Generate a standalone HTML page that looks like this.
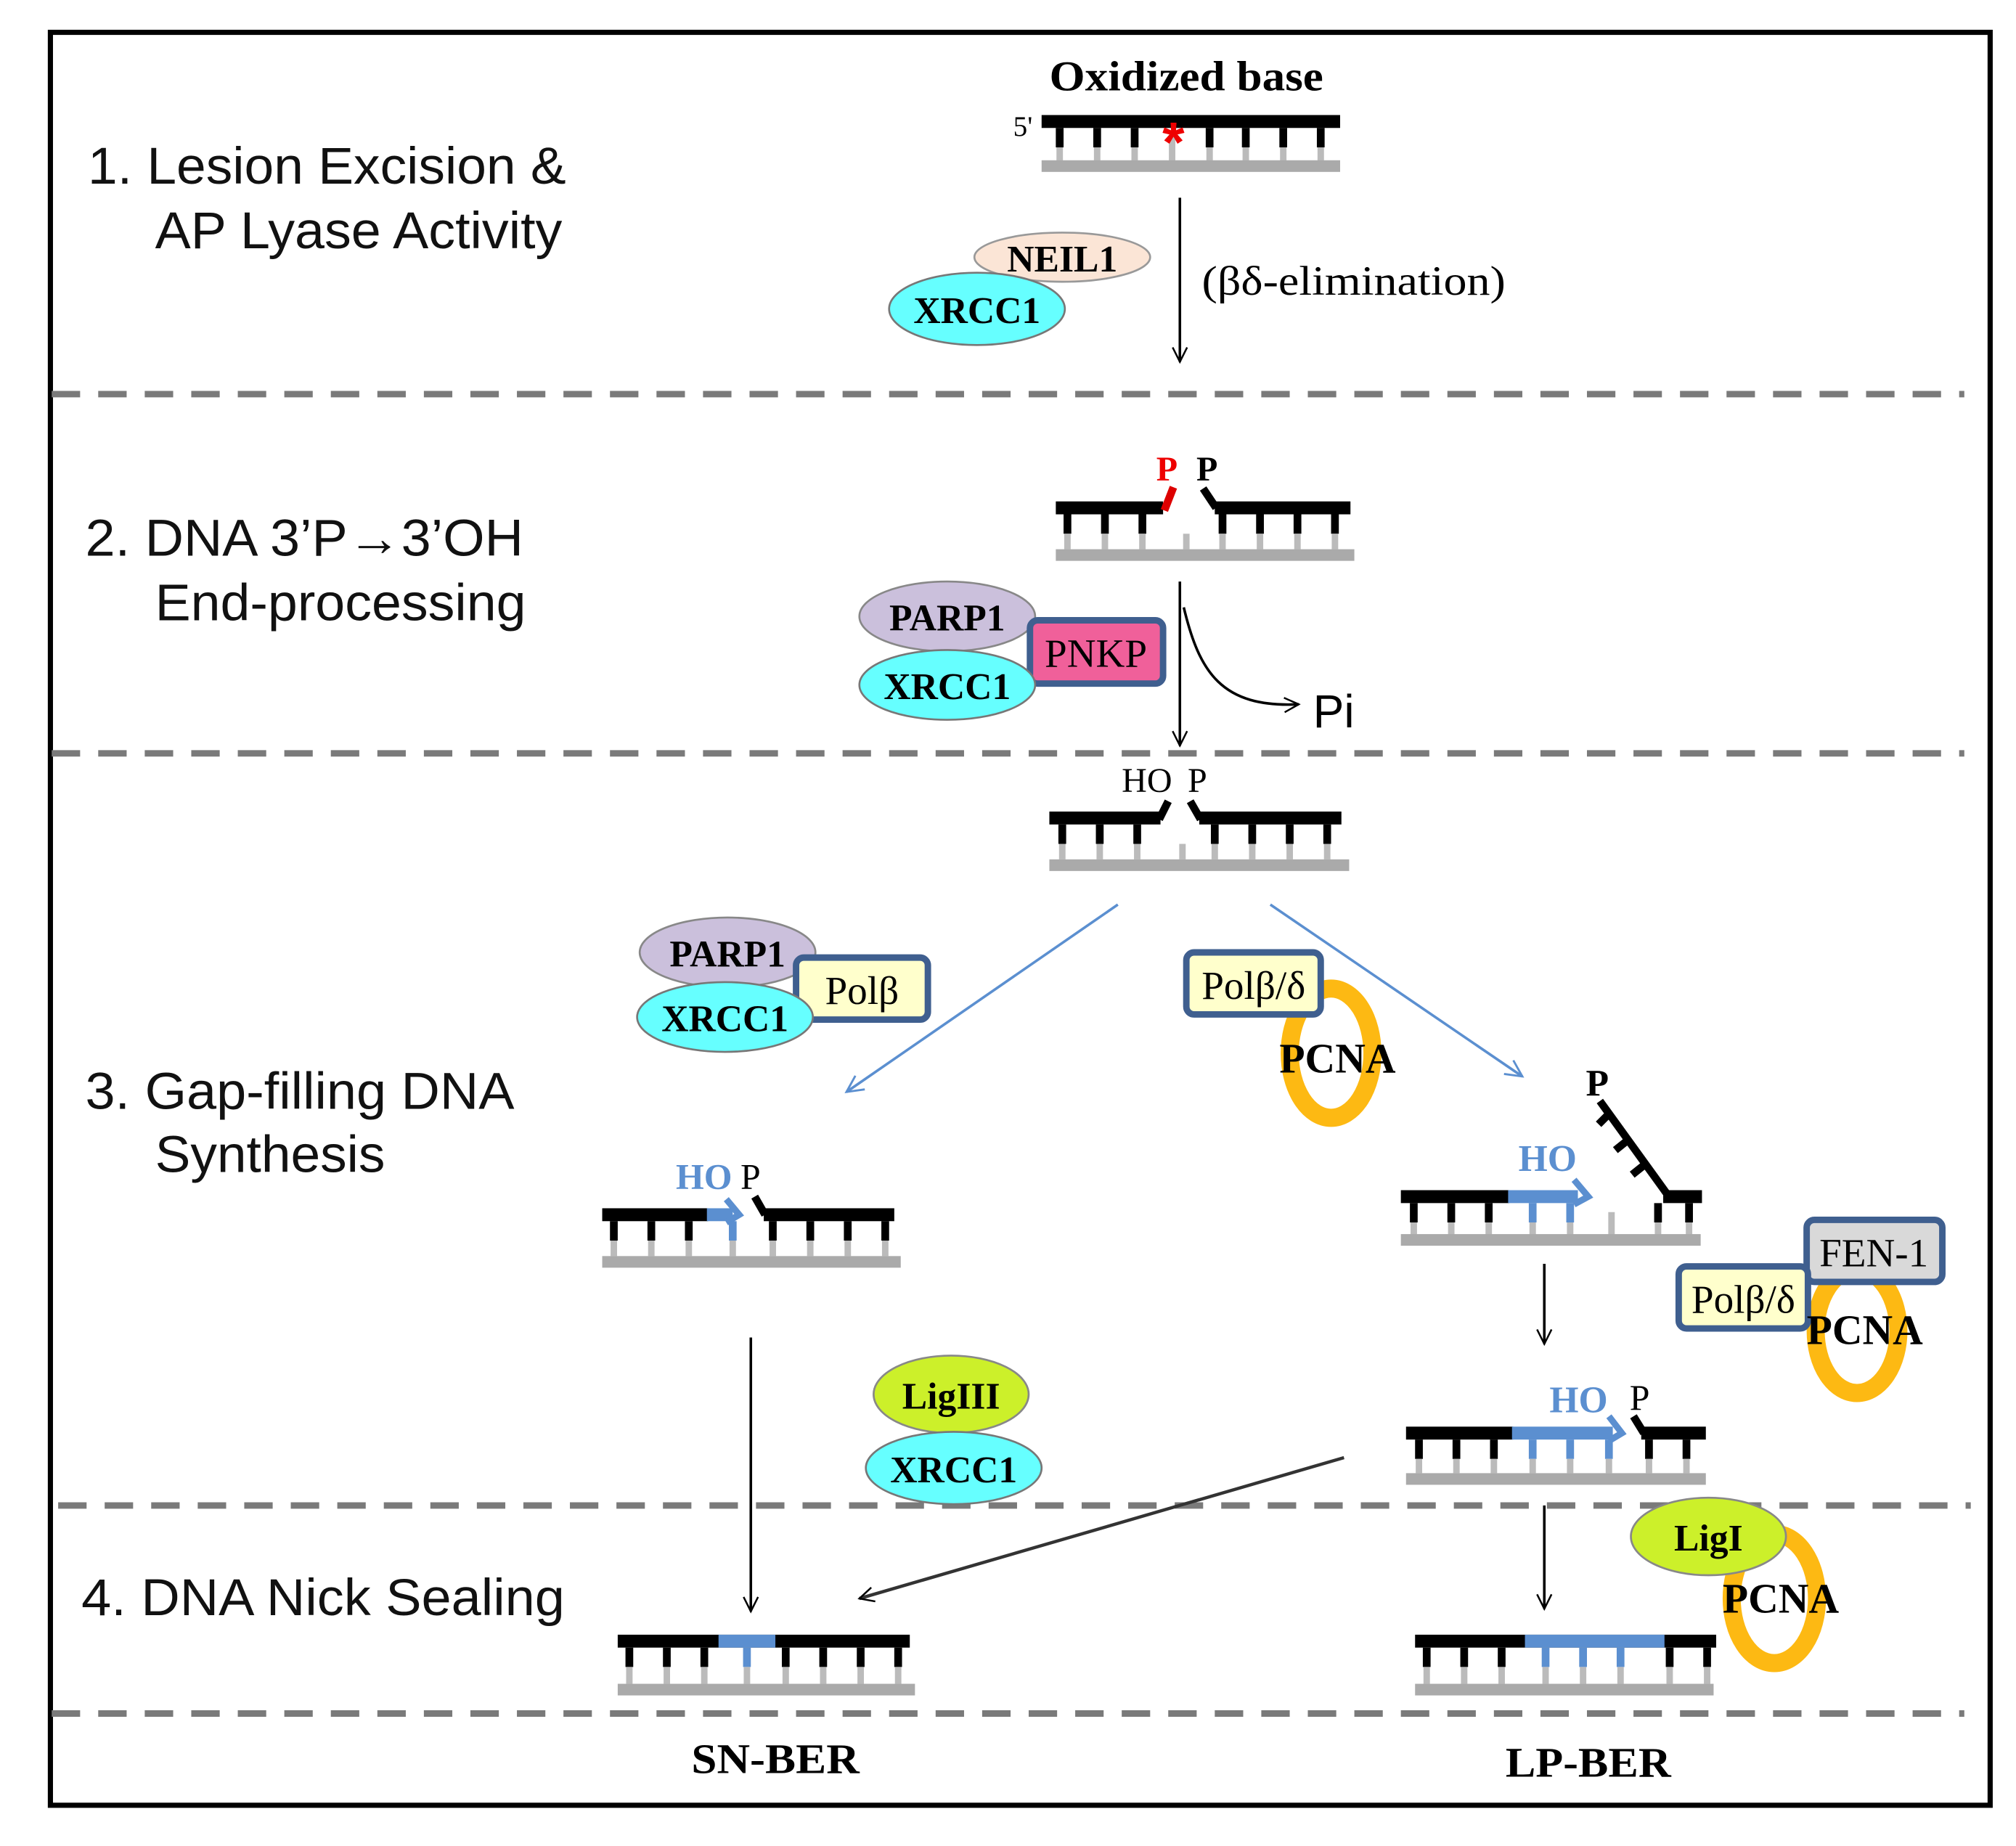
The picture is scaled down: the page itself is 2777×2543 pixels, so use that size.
<!DOCTYPE html>
<html><head><meta charset="utf-8"><style>
html,body{margin:0;padding:0;background:#fff}
svg{display:block}
.lab{font-family:"Liberation Sans",sans-serif;font-size:40px;fill:#111}
.s{font-family:"Liberation Serif",serif;fill:#000}
.b{font-weight:bold}
</style></head><body>
<svg width="2777" height="2543" viewBox="0 0 1560 1428.5" xmlns="http://www.w3.org/2000/svg">
<defs>
<marker id="ah" viewBox="0 0 20 20" refX="18" refY="10" markerWidth="14" markerHeight="14" markerUnits="userSpaceOnUse" orient="auto"><path d="M2 2L18 10L2 18" fill="none" stroke="#000" stroke-width="2"/></marker>
<marker id="ahb" viewBox="0 0 20 20" refX="18" refY="10" markerWidth="16" markerHeight="16" markerUnits="userSpaceOnUse" orient="auto"><path d="M2 2L18 10L2 18" fill="none" stroke="#5b8fd0" stroke-width="2"/></marker>
</defs>
<rect x="0" y="0" width="1560" height="1428.5" fill="#fff"/>
<rect x="39" y="25" width="1501" height="1372" fill="none" stroke="#000" stroke-width="4"/>
<g stroke="#7a7a7a" stroke-width="5" stroke-dasharray="22 14">
<line x1="40" y1="305" x2="1520" y2="305"/>
<line x1="40" y1="583" x2="1520" y2="583"/>
<line x1="45" y1="1165" x2="1525" y2="1165"/>
<line x1="40" y1="1326" x2="1520" y2="1326"/>
</g>
<text class="lab" x="68" y="142" textLength="370" lengthAdjust="spacingAndGlyphs">1. Lesion Excision &amp;</text>
<text class="lab" x="120" y="192" textLength="315" lengthAdjust="spacingAndGlyphs">AP Lyase Activity</text>
<text class="lab" x="66" y="430" textLength="339" lengthAdjust="spacingAndGlyphs">2. DNA 3’P→3’OH</text>
<text class="lab" x="120" y="480" textLength="287" lengthAdjust="spacingAndGlyphs">End-processing</text>
<text class="lab" x="66" y="858" textLength="332" lengthAdjust="spacingAndGlyphs">3. Gap-filling DNA</text>
<text class="lab" x="120" y="907" textLength="178" lengthAdjust="spacingAndGlyphs">Synthesis</text>
<text class="lab" x="63" y="1250" textLength="374" lengthAdjust="spacingAndGlyphs">4. DNA Nick Sealing</text>

<!-- Section 1 -->
<text class="s b" x="812" y="70" font-size="33" textLength="212" lengthAdjust="spacingAndGlyphs">Oxidized base</text>
<text class="s" x="784" y="105" font-size="22">5'</text>
<rect x="806" y="89" width="231" height="10" fill="#000"/>
<path d="M820 99V114M849 99V114M878 99V114M936 99V114M964 99V114M993 99V114M1022 99V114" stroke="#000" stroke-width="6"/>
<path d="M820 114V125M849 114V125M878 114V125M907 105V125M936 114V125M964 114V125M993 114V125M1022 114V125" stroke="#bbb" stroke-width="5"/>
<rect x="806" y="124" width="231" height="9" fill="#aaa"/>
<text x="908" y="125" font-size="44" fill="#e00" text-anchor="middle" font-family="Liberation Sans,sans-serif" font-weight="bold">*</text>
<line x1="913" y1="153" x2="913" y2="280" stroke="#000" stroke-width="2" marker-end="url(#ah)"/>
<text class="s" x="930" y="228" font-size="32" textLength="235" lengthAdjust="spacingAndGlyphs">(βδ-elimination)</text>
<ellipse cx="822" cy="199" rx="68" ry="19" fill="#fbe5d6" stroke="#999" stroke-width="1.5"/>
<text class="s b" x="822" y="210" font-size="29" text-anchor="middle">NEIL1</text>
<ellipse cx="756" cy="239" rx="68" ry="28" fill="#66ffff" stroke="#777" stroke-width="1.5"/>
<text class="s b" x="756" y="250" font-size="29" text-anchor="middle">XRCC1</text>

<!-- Section 2 -->
<text class="s b" x="903" y="372" font-size="27" text-anchor="middle" style="fill:#e00">P</text>
<text class="s b" x="934" y="372" font-size="27" text-anchor="middle">P</text>
<rect x="817" y="388" width="83" height="10" fill="#000"/>
<line x1="901" y1="395" x2="908" y2="377" stroke="#d00" stroke-width="6"/>
<rect x="940" y="388" width="105" height="10" fill="#000"/>
<line x1="941" y1="393" x2="931" y2="378" stroke="#000" stroke-width="6"/>
<path d="M826 398V413M855 398V413M884 398V413M946 398V413M975 398V413M1004 398V413M1033 398V413" stroke="#000" stroke-width="6"/>
<path d="M826 413V425M855 413V425M884 413V425M918 413V425M946 413V425M975 413V425M1004 413V425M1033 413V425" stroke="#bbb" stroke-width="5"/>
<rect x="817" y="425" width="231" height="9" fill="#aaa"/>
<ellipse cx="733" cy="477" rx="68" ry="27" fill="#cbc0dc" stroke="#888" stroke-width="1.5"/>
<text class="s b" x="733" y="488" font-size="29" text-anchor="middle">PARP1</text>
<rect x="797" y="480" width="103" height="49" rx="6" fill="#f0609a" stroke="#3f5f8f" stroke-width="5"/>
<text class="s" x="848" y="516" font-size="31" text-anchor="middle">PNKP</text>
<ellipse cx="733" cy="530" rx="68" ry="27" fill="#66ffff" stroke="#777" stroke-width="1.5"/>
<text class="s b" x="733" y="541" font-size="29" text-anchor="middle">XRCC1</text>
<line x1="913" y1="450" x2="913" y2="577" stroke="#000" stroke-width="2" marker-end="url(#ah)"/>
<path d="M916 470C928 520 945 548 1005 545" fill="none" stroke="#000" stroke-width="2" marker-end="url(#ah)"/>
<text x="1016" y="563" font-size="36" font-family="Liberation Sans,sans-serif">Pi</text>

<!-- Section 3 top DNA -->
<text class="s" x="868" y="613" font-size="27">HO</text>
<text class="s" x="919" y="613" font-size="27">P</text>
<rect x="812" y="628" width="86" height="10" fill="#000"/>
<line x1="897" y1="634" x2="904" y2="620" stroke="#000" stroke-width="6"/>
<rect x="928" y="628" width="110" height="10" fill="#000"/>
<line x1="929" y1="634" x2="921" y2="620" stroke="#000" stroke-width="6"/>
<path d="M822 638V653M851 638V653M880 638V653M940 638V653M969 638V653M998 638V653M1027 638V653" stroke="#000" stroke-width="6"/>
<path d="M822 653V665M851 653V665M880 653V665M915 653V665M940 653V665M969 653V665M998 653V665M1027 653V665" stroke="#bbb" stroke-width="5"/>
<rect x="812" y="665" width="232" height="9" fill="#aaa"/>
<line x1="865" y1="700" x2="655" y2="845" stroke="#5b8fd0" stroke-width="2" marker-end="url(#ahb)"/>
<line x1="983" y1="700" x2="1178" y2="833" stroke="#5b8fd0" stroke-width="2" marker-end="url(#ahb)"/>

<ellipse cx="563" cy="737" rx="68" ry="27" fill="#cbc0dc" stroke="#888" stroke-width="1.5"/>
<text class="s b" x="563" y="748" font-size="29" text-anchor="middle">PARP1</text>
<rect x="616" y="741" width="102" height="48" rx="6" fill="#ffffcc" stroke="#3f5f8f" stroke-width="5"/>
<text class="s" x="667" y="777" font-size="31" text-anchor="middle">Polβ</text>
<ellipse cx="561" cy="787" rx="68" ry="27" fill="#66ffff" stroke="#777" stroke-width="1.5"/>
<text class="s b" x="561" y="798" font-size="29" text-anchor="middle">XRCC1</text>

<ellipse cx="1030" cy="815" rx="32" ry="50" fill="none" stroke="#fdb913" stroke-width="14"/>
<rect x="918" y="737" width="104" height="48" rx="6" fill="#ffffcc" stroke="#3f5f8f" stroke-width="5"/>
<text class="s" x="970" y="773" font-size="31" text-anchor="middle">Polβ/δ</text>
<text class="s b" x="990" y="830" font-size="33" textLength="90" lengthAdjust="spacingAndGlyphs">PCNA</text>

<!-- SN intermediate -->
<text class="s b" x="523" y="920" font-size="28" style="fill:#5b8fd0">HO</text>
<text class="s" x="573" y="920" font-size="28">P</text>
<rect x="466" y="935" width="82" height="10" fill="#000"/>
<rect x="547" y="935" width="20" height="10" fill="#5b8fd0"/>
<path d="M562 928L572 940L562 946" fill="none" stroke="#5b8fd0" stroke-width="5"/>
<rect x="591" y="935" width="101" height="10" fill="#000"/>
<line x1="592" y1="940" x2="584" y2="926" stroke="#000" stroke-width="6"/>
<path d="M475 945V960M504 945V960M533 945V960M598 945V960M627 945V960M656 945V960M685 945V960" stroke="#000" stroke-width="6"/>
<path d="M567 945V960" stroke="#5b8fd0" stroke-width="6"/>
<path d="M475 960V972M504 960V972M533 960V972M567 960V972M598 960V972M627 960V972M656 960V972M685 960V972" stroke="#bbb" stroke-width="5"/>
<rect x="466" y="972" width="231" height="9" fill="#aaa"/>

<!-- LP intermediate with flap -->
<text class="s b" x="1236" y="848" font-size="29" text-anchor="middle">P</text>
<path d="M1238 852L1290 924" stroke="#000" stroke-width="6"/>
<path d="M1245 862L1237 870M1260 882L1250 890M1273 901L1263 909" stroke="#000" stroke-width="6"/>
<text class="s b" x="1175" y="906" font-size="29" style="fill:#5b8fd0">HO</text>
<rect x="1084" y="921" width="84" height="10" fill="#000"/>
<rect x="1167" y="921" width="54" height="10" fill="#5b8fd0"/>
<path d="M1218 913L1229 926L1218 932" fill="none" stroke="#5b8fd0" stroke-width="5"/>
<rect x="1287" y="921" width="30" height="10" fill="#000"/>
<path d="M1094 931V946M1123 931V946M1152 931V946M1283 931V946M1307 931V946" stroke="#000" stroke-width="6"/>
<path d="M1186 931V946M1215 931V946" stroke="#5b8fd0" stroke-width="6"/>
<path d="M1094 946V956M1123 946V956M1152 946V956M1186 946V956M1215 946V956M1247 938V956M1283 946V956M1307 946V956" stroke="#bbb" stroke-width="5"/>
<rect x="1084" y="955" width="232" height="9" fill="#aaa"/>

<ellipse cx="1437" cy="1030" rx="32" ry="48" fill="none" stroke="#fdb913" stroke-width="14"/>
<rect x="1398" y="944" width="105" height="48" rx="6" fill="#d9d9d9" stroke="#3f5f8f" stroke-width="5"/>
<text class="s" x="1450" y="980" font-size="31" text-anchor="middle">FEN-1</text>
<rect x="1299" y="980" width="100" height="48" rx="6" fill="#ffffcc" stroke="#3f5f8f" stroke-width="5"/>
<text class="s" x="1349" y="1016" font-size="31" text-anchor="middle">Polβ/δ</text>
<text class="s b" x="1398" y="1040" font-size="33" textLength="90" lengthAdjust="spacingAndGlyphs">PCNA</text>
<line x1="1195" y1="978" x2="1195" y2="1040" stroke="#000" stroke-width="2" marker-end="url(#ah)"/>

<!-- LP nick -->
<text class="s b" x="1199" y="1093" font-size="29" style="fill:#5b8fd0">HO</text>
<text class="s" x="1261" y="1091" font-size="28">P</text>
<rect x="1088" y="1104" width="83" height="10" fill="#000"/>
<rect x="1170" y="1104" width="78" height="10" fill="#5b8fd0"/>
<path d="M1245 1096L1255 1109L1245 1115" fill="none" stroke="#5b8fd0" stroke-width="5"/>
<rect x="1270" y="1104" width="50" height="10" fill="#000"/>
<line x1="1272" y1="1109" x2="1264" y2="1096" stroke="#000" stroke-width="6"/>
<path d="M1098 1114V1129M1127 1114V1129M1156 1114V1129M1276 1114V1129M1305 1114V1129" stroke="#000" stroke-width="6"/>
<path d="M1186 1114V1129M1215 1114V1129M1245 1114V1129" stroke="#5b8fd0" stroke-width="6"/>
<path d="M1098 1129V1140M1127 1129V1140M1156 1129V1140M1186 1129V1140M1215 1129V1140M1245 1129V1140M1276 1129V1140M1305 1129V1140" stroke="#bbb" stroke-width="5"/>
<rect x="1088" y="1140" width="232" height="9" fill="#aaa"/>

<line x1="1040" y1="1128" x2="665" y2="1237" stroke="#333" stroke-width="2.5" marker-end="url(#ah)"/>
<line x1="581" y1="1035" x2="581" y2="1247" stroke="#000" stroke-width="2" marker-end="url(#ah)"/>
<ellipse cx="736" cy="1079" rx="60" ry="30" fill="#ccf02a" stroke="#888" stroke-width="1.5"/>
<text class="s b" x="736" y="1090" font-size="29" text-anchor="middle">LigIII</text>
<ellipse cx="738" cy="1136" rx="68" ry="28" fill="#66ffff" stroke="#777" stroke-width="1.5"/>
<text class="s b" x="738" y="1147" font-size="29" text-anchor="middle">XRCC1</text>
<line x1="1195" y1="1165" x2="1195" y2="1245" stroke="#000" stroke-width="2" marker-end="url(#ah)"/>
<ellipse cx="1373" cy="1237" rx="33" ry="50" fill="none" stroke="#fdb913" stroke-width="14"/>
<ellipse cx="1322" cy="1189" rx="60" ry="30" fill="#ccf02a" stroke="#888" stroke-width="1.5"/>
<text class="s b" x="1322" y="1200" font-size="29" text-anchor="middle">LigI</text>
<text class="s b" x="1333" y="1248" font-size="33" textLength="90" lengthAdjust="spacingAndGlyphs">PCNA</text>

<!-- Final DNAs -->
<rect x="478" y="1265" width="226" height="10" fill="#000"/>
<rect x="556" y="1265" width="44" height="10" fill="#5b8fd0"/>
<path d="M487 1275V1290M516 1275V1290M545 1275V1290M608 1275V1290M637 1275V1290M666 1275V1290M695 1275V1290" stroke="#000" stroke-width="6"/>
<path d="M578 1275V1290" stroke="#5b8fd0" stroke-width="6"/>
<path d="M487 1290V1303M516 1290V1303M545 1290V1303M578 1290V1303M608 1290V1303M637 1290V1303M666 1290V1303M695 1290V1303" stroke="#bbb" stroke-width="5"/>
<rect x="478" y="1303" width="230" height="9" fill="#aaa"/>

<rect x="1095" y="1265" width="233" height="10" fill="#000"/>
<rect x="1180" y="1265" width="108" height="10" fill="#5b8fd0"/>
<path d="M1104 1275V1290M1133 1275V1290M1162 1275V1290M1292 1275V1290M1321 1275V1290" stroke="#000" stroke-width="6"/>
<path d="M1196 1275V1290M1225 1275V1290M1254 1275V1290" stroke="#5b8fd0" stroke-width="6"/>
<path d="M1104 1290V1303M1133 1290V1303M1162 1290V1303M1196 1290V1303M1225 1290V1303M1254 1290V1303M1292 1290V1303M1321 1290V1303" stroke="#bbb" stroke-width="5"/>
<rect x="1095" y="1303" width="231" height="9" fill="#aaa"/>

<text class="s b" x="535" y="1372" font-size="33" textLength="130" lengthAdjust="spacingAndGlyphs">SN-BER</text>
<text class="s b" x="1165" y="1375" font-size="33" textLength="128" lengthAdjust="spacingAndGlyphs">LP-BER</text>
</svg>
</body></html>
